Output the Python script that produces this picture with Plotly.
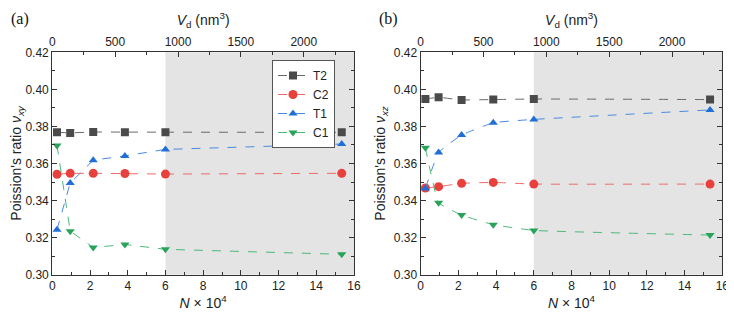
import plotly.graph_objects as go

# ---- data ----
N = [0.25, 0.95, 2.17, 3.85, 6.0, 15.35]          # N x 10^4
Vd = [38, 143, 326, 578, 900, 2303]                # nm^3 (top axis)

a_T2 = [0.3768, 0.3765, 0.3770, 0.3769, 0.3769, 0.3768]
a_C2 = [0.3542, 0.3547, 0.3547, 0.3546, 0.3543, 0.3547]
a_T1 = [0.3243, 0.3495, 0.3618, 0.3641, 0.3676, 0.3705]
a_C1 = [0.3697, 0.3235, 0.3147, 0.3163, 0.3137, 0.3110]

b_T2 = [0.3948, 0.3957, 0.3943, 0.3945, 0.3948, 0.3945]
b_C2 = [0.3468, 0.3475, 0.3493, 0.3498, 0.3489, 0.3489]
b_T1 = [0.3465, 0.3660, 0.3754, 0.3820, 0.3838, 0.3889]
b_C1 = [0.3685, 0.3388, 0.3322, 0.3270, 0.3239, 0.3214]

names = ["T2", "C2", "T1", "C1"]
colors = ["#4a4a4a", "#e8403c", "#1f6fd6", "#27a35a"]
lcolors = ["#6a6a6a", "#ee6a66", "#4a8ae0", "#4cb878"]
symbols = ["square", "circle", "triangle-up", "triangle-down"]

fig = go.Figure()

def add_panel(series, xa, ya, show, shape):
    for s, nm, c, lc, sym in zip(series, names, colors, lcolors, symbols):
        fig.add_trace(go.Scatter(
            x=N, y=s, name=nm, mode="lines+markers",
            xaxis=xa, yaxis=ya, showlegend=show,
            line=dict(color=lc, width=1, dash="dash", shape=shape, smoothing=0.3),
            marker=dict(symbol=sym, color=c, size=8 if sym != "circle" else 9),
        ))

add_panel([a_T2, a_C2, a_T1, a_C1], "x", "y", True, "linear")
add_panel([b_T2, b_C2, b_T1, b_C1], "x3", "y2", False, "spline")

# invisible traces to render top axes
fig.add_trace(go.Scatter(x=Vd, y=a_T2, xaxis="x2", yaxis="y", mode="markers",
                         marker=dict(opacity=0), showlegend=False, hoverinfo="skip"))
fig.add_trace(go.Scatter(x=Vd, y=b_T2, xaxis="x4", yaxis="y2", mode="markers",
                         marker=dict(opacity=0), showlegend=False, hoverinfo="skip"))

# page body has an 8px margin: figure is offset by it
OFF = 8
W, H = 734 - OFF, 319 - 2 * OFF
def px(x):
    return (x - OFF) / W
def py(y):
    return 1 - (y - OFF) / H

dA = [px(52.3), px(354)]
dB = [px(420.7), px(722.3)]
dY = [py(274.7), py(52.3)]

tickfont = dict(family="Liberation Sans, Arial", size=12, color="#222")
titlefont = dict(family="Liberation Sans, Arial", size=14, color="#222")

def xbottom(dom, anchor):
    return dict(domain=dom, anchor=anchor, range=[0, 16], dtick=2, tick0=0,
                automargin=False, ticklabeloverflow="allow",
                ticks="inside", ticklen=5, tickwidth=1, tickcolor="#333",
                minor=dict(dtick=1, ticks="inside", ticklen=3, tickcolor="#333"),
                showline=True, linecolor="#333", linewidth=1.2, mirror=False,
                showgrid=False, zeroline=False, tickfont=tickfont,
                title=dict(text="<i>N</i> × 10<sup>4</sup>", font=titlefont, standoff=8))

def xtop(overlay, anchor):
    return dict(overlaying=overlay, anchor=anchor, side="top", range=[0, 2400],
                automargin=False, ticklabeloverflow="allow",
                dtick=500, tick0=0, ticks="inside", ticklen=5, tickwidth=1,
                tickcolor="#333",
                minor=dict(dtick=250, ticks="inside", ticklen=3, tickcolor="#333"),
                showline=True, linecolor="#333", linewidth=1.2, showgrid=False,
                zeroline=False, tickfont=tickfont,
                title=dict(text="<i>V</i><sub>d</sub> (nm<sup>3</sup>)", font=titlefont, standoff=6))

def yax(dom, anchor, sub):
    return dict(domain=dom, anchor=anchor, range=[0.30, 0.42], dtick=0.02,
                automargin=False,
                tickformat=".2f", ticks="inside", ticklen=5, tickwidth=1,
                tickcolor="#333",
                minor=dict(dtick=0.01, ticks="inside", ticklen=3, tickcolor="#333"),
                showline=True, linecolor="#333", linewidth=1.2, mirror="ticks",
                showgrid=False, zeroline=False, tickfont=tickfont,
                title=dict(text="Poission's ratio <i>ν<sub>%s</sub></i>" % sub,
                           font=titlefont, standoff=4))

fig.update_layout(
    width=W, height=H,
    margin=dict(l=0, r=0, t=0, b=0, autoexpand=False),
    paper_bgcolor="white", plot_bgcolor="white",
    xaxis=xbottom(dA, "y"),
    xaxis2=xtop("x", "y"),
    xaxis3=xbottom(dB, "y2"),
    xaxis4=xtop("x3", "y2"),
    yaxis=yax(dY, "x", "xy"),
    yaxis2=yax(dY, "x3", "xz"),
    legend=dict(x=px(335), y=py(60), xanchor="right", yanchor="top",
                bgcolor="white", bordercolor="#555", borderwidth=1,
                font=dict(family="Liberation Sans, Arial", size=12, color="#222"),
                tracegroupgap=0, itemwidth=30),
    shapes=[
        dict(type="rect", xref="x", yref="y domain", x0=6, x1=16, y0=0, y1=1,
             fillcolor="#e4e4e4", line=dict(width=0), layer="below"),
        dict(type="rect", xref="x3", yref="y2 domain", x0=6, x1=16, y0=0, y1=1,
             fillcolor="#e4e4e4", line=dict(width=0), layer="below"),
    ],
    annotations=[
        dict(text="(a)", x=px(9), y=1, xref="paper", yref="paper",
             xanchor="left", yanchor="top", showarrow=False,
             font=dict(family="Liberation Serif, Times New Roman", size=16, color="#111")),
        dict(text="(b)", x=px(377), y=1, xref="paper", yref="paper",
             xanchor="left", yanchor="top", showarrow=False,
             font=dict(family="Liberation Serif, Times New Roman", size=16, color="#111")),
    ],
)

fig.write_html("out.html")
